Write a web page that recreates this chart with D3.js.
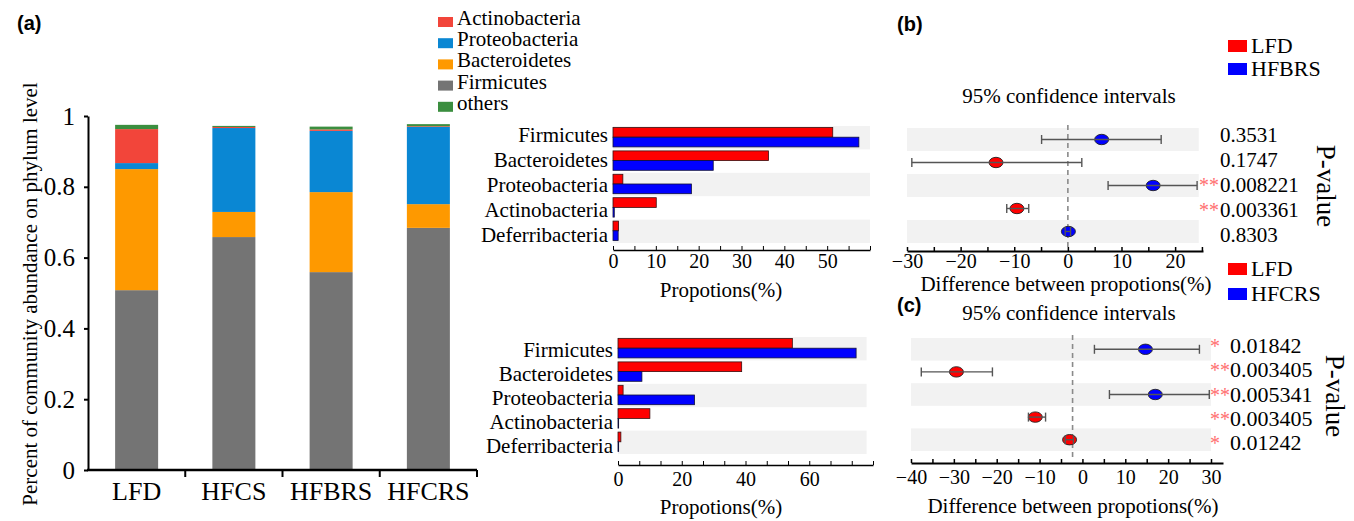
<!DOCTYPE html>
<html><head><meta charset="utf-8">
<script src="https://cdn.jsdelivr.net/npm/d3@7"></script>
<style>body{margin:0;background:#fff}svg{display:block}</style>
</head><body>
<script>
// ---------- data ----------
const groups = ["LFD","HFCS","HFBRS","HFCRS"];
const stackKeys = ["Firmicutes","Bacteroidetes","Proteobacteria","Actinobacteria","others"];
const firmicutes     = [0.508,0.658,0.559,0.684];
const bacteroidetes  = [0.342,0.071,0.226,0.067];
const proteobacteria = [0.017,0.237,0.173,0.218];
const actinobacteria = [0.096,0.003,0.004,0.002];
const others         = [0.012,0.003,0.008,0.006];
const legendA = ["Actinobacteria","Proteobacteria","Bacteroidetes","Firmicutes","others"];
const yTicksA = [0,0.2,0.4,0.6,0.8,1];

const phyla = ["Firmicutes","Bacteroidetes","Proteobacteria","Actinobacteria","Deferribacteria"];
const lfdB   = [51.3,36.3,2.3,10.1,1.3];
const hfbrsB = [57.4,23.4,18.3,0.3,1.2];
const lfdC   = [54.7,38.8,1.6,10.0,0.9];
const hfcrsC = [74.7,7.5,24.0,0.2,0.2];

const diffB = [6.3,-13.4,15.9,-9.5,0.1];
const loB   = [-4.9,-29.1,7.5,-11.4,-0.5];
const hiB   = [17.4,2.6,24.1,-7.3,0.5];
const pB    = ["0.3531","0.1747","0.008221","0.003361","0.8303"];
const starsB = ["","","**","**",""];

const diffC = [14.7,-29.4,17.0,-11.0,-3.0];
const loC   = [2.8,-37.6,6.3,-12.6,-4.0];
const hiC   = [27.3,-21.0,29.6,-8.6,-2.1];
const pC    = ["0.01842","0.003405","0.005341","0.003405","0.01242"];
const starsC = ["*","**","**","**","*"];
const refC = -2.3; // dashed reference line as drawn in panel (c)

// ---------- style ----------
const FONT = "'Liberation Serif','Times New Roman',serif";
const SANS = "'Liberation Sans',Arial,sans-serif";
const colorA = {Actinobacteria:"#f2453a",Proteobacteria:"#0a87d3",Bacteroidetes:"#fe9900",Firmicutes:"#747474",others:"#3b8e3f"};
const RED = "#ff0000", BLUE = "#0000ff", BAND = "#f2f2f2";

const svg = d3.select("body").append("svg").attr("width",1354).attr("height",521)
  .style("font-family",FONT);

function txt(x,y,s,size,anchor,extra){
  const t = svg.append("text").attr("x",x).attr("y",y).attr("font-size",size)
    .attr("text-anchor",anchor||"start").attr("font-family",FONT).text(s);
  if(extra) extra(t);
  return t;
}

// ---------- panel (a) ----------
const xa = d3.scaleBand().domain(groups).range([88,477]);
const ya = d3.scaleLinear().domain([0,1]).range([470,116]);
const rowsA = groups.map((g,i)=>({group:g,Firmicutes:firmicutes[i],Bacteroidetes:bacteroidetes[i],
  Proteobacteria:proteobacteria[i],Actinobacteria:actinobacteria[i],others:others[i]}));
const series = d3.stack().keys(stackKeys)(rowsA);
svg.append("g").selectAll("g").data(series).join("g").attr("fill",d=>colorA[d.key])
  .selectAll("rect").data(d=>d).join("rect")
  .attr("x",d=>xa(d.data.group)+xa.bandwidth()/2-21.5).attr("width",43)
  .attr("y",d=>ya(d[1])).attr("height",d=>ya(d[0])-ya(d[1]));

const gya = svg.append("g").attr("transform","translate(88,0)")
  .call(d3.axisLeft(ya).tickValues(yTicksA).tickFormat(d=>(d===0||d===1)?String(d):d.toFixed(1))
    .tickSize(4).tickSizeOuter(0).tickPadding(9));
gya.attr("font-family",FONT).attr("font-size",25);
gya.select(".domain").attr("stroke-width",2);
gya.selectAll(".tick line").attr("stroke-width",2);

svg.append("line").attr("x1",87).attr("x2",xa.range()[1]).attr("y1",ya(0)).attr("y2",ya(0))
  .attr("stroke","#000").attr("stroke-width",2.5);
groups.slice(1).map(g=>xa(g)).concat([xa.range()[1]]).forEach(x=>{
  svg.append("line").attr("x1",x).attr("x2",x).attr("y1",ya(0)).attr("y2",ya(0)+7)
    .attr("stroke","#000").attr("stroke-width",2);
});
groups.forEach(g=>txt(xa(g)+xa.bandwidth()/2,500,g,26,"middle"));
txt(0,0,"Percent of community abundance on phylum level",21,"middle",
  t=>t.attr("transform","translate(37,294) rotate(-90)"));
txt(17,30,"(a)",20,"start",t=>t.attr("font-family",SANS).attr("font-weight","bold"));

legendA.forEach((k,i)=>{
  const y = 25 + i*21.2;
  svg.append("rect").attr("x",438).attr("y",y-8).attr("width",15).attr("height",10).attr("fill",colorA[k]);
  txt(457,y,k,21,"start");
});

// ---------- horizontal bar panels ----------
function barPanel(o){
  const x = d3.scaleLinear().domain(o.domain).range(o.range);
  const y = d3.scaleBand().domain(phyla).range(o.rows);
  const ly = d3.scalePoint().domain(phyla).range(o.labelRange);
  const bw = y.bandwidth(), h = (bw-4)/2;
  const g = svg.append("g");
  g.selectAll(".band").data(phyla.filter((d,i)=>i%2===0)).join("rect")
    .attr("x",x(0)).attr("width",x(o.bandEnd)-x(0)).attr("y",d=>y(d)).attr("height",bw).attr("fill",BAND);
  g.selectAll(".r").data(phyla).join("rect")
    .attr("x",x(0)).attr("y",d=>y(d)+1.5).attr("height",h)
    .attr("width",(d,i)=>x(o.a[i])-x(0)).attr("fill",RED).attr("stroke","#3a1010").attr("stroke-width",0.8);
  g.selectAll(".b").data(phyla).join("rect")
    .attr("x",x(0)).attr("y",d=>y(d)+1.5+h).attr("height",h)
    .attr("width",(d,i)=>x(o.b[i])-x(0)).attr("fill",BLUE).attr("stroke","#10103a").attr("stroke-width",0.8);
  phyla.forEach(p=>txt(x(0)-5,ly(p),p,21,"end"));
  const ax = svg.append("g").attr("transform",`translate(0,${o.axisY})`)
    .call(d3.axisBottom(x).tickValues(o.ticks).tickSize(-4).tickSizeOuter(0).tickPadding(o.pad)
      .tickFormat(d=>o.labels.some(v=>Math.abs(v-d)<1e-6)?d3.format("d")(Math.round(d)):""));
  ax.attr("font-family",FONT).attr("font-size",20);
  ax.select(".domain").attr("stroke-width",1.5);
  txt(721,o.titleY,"Propotions(%)",21,"middle");
}
barPanel({domain:[0,60],range:[613,870],rows:[126,243],labelRange:[141.5,242],a:lfdB,b:hfbrsB,bandEnd:60,
  axisY:250,ticks:d3.range(0,60.01,5),labels:[0,10,20,30,40,50],pad:4,titleY:297});
barPanel({domain:[0,80],range:[618,873],rows:[337,454],labelRange:[357,453],a:lfdC,b:hfcrsC,bandEnd:78,
  axisY:465,ticks:d3.range(0,80.01,20/3),labels:[0,20,40,60],pad:7,titleY:514});

// ---------- CI panels ----------
function ciPanel(o){
  const x = d3.scaleLinear().domain(o.domain).range(o.range);
  const y = d3.scaleBand().domain(phyla).range(o.rows);
  const ly = d3.scalePoint().domain(phyla).range(o.labelRange);
  const bw = y.bandwidth();
  const g = svg.append("g");
  g.selectAll(".band").data(phyla.filter((d,i)=>i%2===0)).join("rect")
    .attr("x",x(o.domain[0])).attr("width",x(o.bandEnd)-x(o.domain[0])).attr("y",d=>y(d)).attr("height",bw).attr("fill",BAND);
  g.append("line").attr("x1",x(o.ref)).attr("x2",x(o.ref)).attr("y1",o.rows[0]-3).attr("y2",o.axisY-4)
    .attr("stroke","#8a8a8a").attr("stroke-width",1.6).attr("stroke-dasharray","5,4");
  phyla.forEach((p,i)=>{
    const cy = y(p)+bw/2;
    const col = o.diff[i] > 0 ? BLUE : RED;
    g.append("ellipse").attr("cx",x(o.diff[i])).attr("cy",cy).attr("rx",7).attr("ry",5.2)
      .attr("fill",col).attr("stroke","#222").attr("stroke-width",0.9);
    g.append("line").attr("x1",x(o.lo[i])).attr("x2",x(o.hi[i])).attr("y1",cy).attr("y2",cy)
      .attr("stroke","#555").attr("stroke-width",1.4);
    [o.lo[i],o.hi[i]].forEach(v=>g.append("line").attr("x1",x(v)).attr("x2",x(v))
      .attr("y1",cy-4.5).attr("y2",cy+4.5).attr("stroke","#555").attr("stroke-width",1.4));
    txt(o.pX,ly(p),o.p[i],o.pSize,"start");
    if(o.stars[i]) txt(o.starX,ly(p),o.stars[i],20,o.starAnchor,t=>t.attr("fill","#ff6f6f"));
  });
  const ax = svg.append("g").attr("transform",`translate(0,${o.axisY})`)
    .call(d3.axisBottom(x).tickValues(o.ticks).tickSize(-4).tickSizeOuter(0).tickPadding(o.pad)
      .tickFormat(d=>o.labels.includes(d)?d3.format("d")(d):""));
  ax.attr("font-family",FONT).attr("font-size",20);
  ax.select(".domain").attr("stroke-width",2.2);
  ax.selectAll(".tick line").attr("stroke-width",1.5);
  txt(o.titleX,o.titleY,"Difference between propotions(%)",21,"middle");
  txt(1069,o.ciY,"95% confidence intervals",21,"middle");
  txt(0,0,"P-value",27,"middle",t=>t.attr("transform",`translate(${o.pvX},${o.pvY}) rotate(90)`));
  o.legend.forEach((k,i)=>{
    const yy = o.legY + i*o.legStep;
    svg.append("rect").attr("x",1228).attr("y",yy-13).attr("width",19).attr("height",12).attr("fill",i===0?RED:BLUE);
    txt(1251,yy,k,22,"start");
  });
  txt(897,o.tagY,o.tag,20,"start",t=>t.attr("font-family",SANS).attr("font-weight","bold"));
}
ciPanel({domain:[-30,25.2],range:[907,1203],rows:[128,243],labelRange:[142,242],bandEnd:24.4,ref:0,
  diff:diffB,lo:loB,hi:hiB,p:pB,stars:starsB,pX:1220,pSize:21,starX:1219,starAnchor:"end",
  axisY:251,ticks:d3.range(-30,25.01,5),labels:[-30,-20,-10,0,10,20],pad:3,titleX:1066,titleY:291,ciY:103,
  pvX:1317,pvY:186,legend:["LFD","HFBRS"],legY:53,legStep:23,tag:"(b)",tagY:31});
ciPanel({domain:[-40,32.8],range:[911,1223],rows:[338,451],labelRange:[353,450],bandEnd:30,ref:refC,
  diff:diffC,lo:loC,hi:hiC,p:pC,stars:starsC,pX:1230,pSize:22,starX:1210,starAnchor:"start",
  axisY:463,ticks:d3.range(-40,30.01,5),labels:[-40,-30,-20,-10,0,10,20,30],pad:7,titleX:1073,titleY:513,ciY:320,
  pvX:1326,pvY:396,legend:["LFD","HFCRS"],legY:276,legStep:25,tag:"(c)",tagY:312});
</script>
</body></html>
